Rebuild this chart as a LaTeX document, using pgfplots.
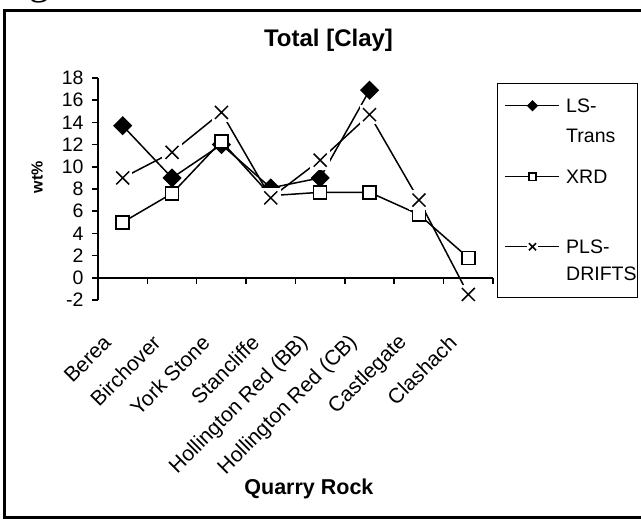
\documentclass[border=0pt]{standalone}
\usepackage{fontspec}
\setmainfont{Liberation Sans}
\newfontfamily\capfont{Liberation Serif}
\usepackage{pgfplots}
\pgfplotsset{compat=1.18}

% cross on a white square, as the spreadsheet draws it
\pgfdeclareplotmark{xbox}{%
  \pgfpathrectangle{\pgfqpoint{-1.5\pgfplotmarksize}{-1.5\pgfplotmarksize}}{\pgfqpoint{3\pgfplotmarksize}{3\pgfplotmarksize}}%
  \pgfsetfillcolor{white}\pgfusepath{fill}%
  \pgfpathmoveto{\pgfqpoint{-\pgfplotmarksize}{-\pgfplotmarksize}}%
  \pgfpathlineto{\pgfqpoint{\pgfplotmarksize}{\pgfplotmarksize}}%
  \pgfpathmoveto{\pgfqpoint{-\pgfplotmarksize}{\pgfplotmarksize}}%
  \pgfpathlineto{\pgfqpoint{\pgfplotmarksize}{-\pgfplotmarksize}}%
  \pgfusepath{stroke}}

\begin{document}
\begin{tikzpicture}
\useasboundingbox (0pt,0pt) rectangle (641pt,521pt);
\draw[line width=3pt] (700pt,510pt) -- (4.5pt,510pt) -- (4.5pt,3.5pt) -- (700pt,3.5pt);
\node[anchor=base west, inner sep=0pt, font=\capfont\fontsize{40}{44}\selectfont] at (-4pt,526.5pt) {Fig};

\begin{axis}[
    at={(98pt,221pt)}, anchor=south west,
    scale only axis, width=395pt, height=222pt,
    xmin=0.5, xmax=8.5, ymin=-2, ymax=18,
    enlargelimits=false, clip=false,
    axis y line=left, axis x line=middle,
    axis line style={-, line width=1.5pt},
    ytick={-2,0,...,18},
    xtick={1,...,8},
    xticklabels={Berea, Birchover, York Stone, Stancliffe, Hollington Red (BB), Hollington Red (CB), Castlegate, Clashach},
    minor xtick={0.5,1.5,...,8.5},
    tick style={line width=1.5pt, black},
    major x tick style={draw=none},
    tick align=outside,
    major tick length=6pt, minor tick length=6pt,
    /pgf/number format/assume math mode=true,
    yticklabel style={font=\fontsize{19.5}{22}\selectfont, xshift=-5pt},
    xticklabel style={font=\fontsize{21}{24}\selectfont, xshift=-13pt, yshift=-53pt, rotate=45, anchor=east},
    title={Total [Clay]},
    title style={font=\fontsize{24}{28}\selectfont\bfseries, at={(axis description cs:0.5836,1.1126)}, anchor=base},
    xlabel={Quarry Rock},
    xlabel style={font=\fontsize{21.5}{26}\selectfont\bfseries, at={(axis description cs:0.534,-0.878)}, anchor=base},
    ylabel={wt\%},
    ylabel style={font=\fontsize{16}{19}\selectfont\bfseries, at={(axis description cs:-0.1544,0.554)}, anchor=center},
    legend style={at={(axis description cs:1.0101,0.9775)}, anchor=north west,
        draw=black, line width=1.5pt, inner xsep=1pt, inner ysep=0pt,
        row sep=0pt, column sep=6pt, cells={anchor=base west},
        nodes={inner sep=0pt}, font=\fontsize{19.5}{22}\selectfont},
    legend image code/.code={%
        \path (0pt,0pt) (60pt,0pt);
        \draw[#1, mark indices={2}, every mark/.append style={scale=0.55}]
            plot coordinates {(6pt,7pt) (33pt,7pt) (60pt,7pt)};},
]

\addplot[black, line width=1.5pt, mark=square*, mark size=6pt,
    mark options={rotate=45, fill=black}]
coordinates {
  (1,13.7) (2,9.0) (3,12.0) (4,8.1) (5,9.0) (6,16.9)
};
\addlegendentry[text height=29pt, text depth=15pt]{LS-}
\addlegendimage{empty legend}
\addlegendentry[text height=15pt, text depth=26pt]{Trans}

\addplot[black, line width=1.5pt, mark=square*, mark size=6.5pt,
    mark options={fill=white}, mark indices={1,2,3,5,6,7,8}]
coordinates {
  (1,5.0) (2,7.6) (3,12.3) (4,7.4) (5,7.7) (6,7.7) (7,5.7) (8,1.8)
};
\addlegendentry[text height=15pt, text depth=55pt]{XRD}

\addplot[black, line width=1.5pt, mark=xbox, mark size=6.5pt]
coordinates {
  (1,9.0) (2,11.3) (3,14.9) (4,7.2) (5,10.6) (6,14.7) (7,7.0) (8,-1.5)
};
\addlegendentry[text height=15pt, text depth=12pt]{PLS-}
\addlegendimage{empty legend}
\addlegendentry[text height=15pt, text depth=17pt]{DRIFTS}

\end{axis}
\end{tikzpicture}
\end{document}
